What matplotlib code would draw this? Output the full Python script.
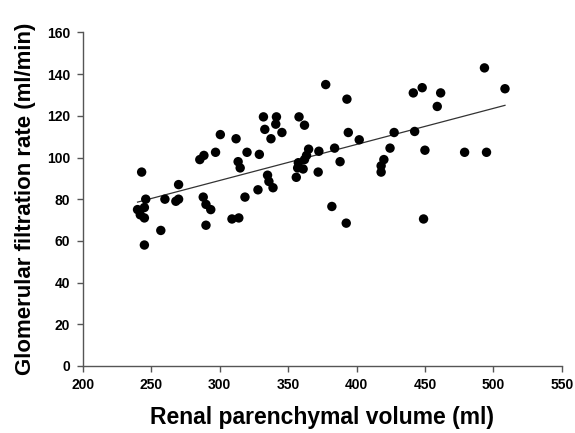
import numpy as np
import matplotlib
matplotlib.use("Agg")
import matplotlib.pyplot as plt

# renal parenchymal volume (ml) vs GFR (ml/min)
volume = [243, 245, 240, 242, 245, 246, 245, 260, 257, 270, 268, 270,
          285.5, 288.5, 300.5, 297, 312, 313.5, 315, 320, 329, 288, 290,
          293.5, 290, 309, 314, 318.5, 328, 377.5, 393, 332, 341.5, 341,
          333, 345.5, 337.5, 358, 362, 394, 402, 365, 363.5, 362, 372.5,
          384, 388, 357.5, 357, 361, 356, 372, 335, 336, 339, 382, 392.5,
          420, 418, 418, 493.5, 508.5, 441.5, 448, 461.5, 459, 427.5,
          442.5, 424.5, 450, 479, 495, 449]
gfr = [93, 58, 75, 72.5, 71, 80, 76, 80, 65, 87, 79, 80,
       99, 101, 111, 102.5, 109, 98, 95, 102.5, 101.5, 81, 77.5,
       75, 67.5, 70.5, 71, 81, 84.5, 135, 128, 119.5, 119.5, 116,
       113.5, 112, 109, 119.5, 115.5, 112, 108.5, 104, 101, 99, 103,
       104.5, 98, 97.5, 95, 94.5, 90.5, 93, 91.5, 88.5, 85.5, 76.5, 68.5,
       99, 96, 93, 143, 133, 131, 133.5, 131, 124.5, 112,
       112.5, 104.5, 103.5, 102.5, 102.5, 70.5]

x_ticks = [200, 250, 300, 350, 400, 450, 500, 550]
y_ticks = [0, 20, 40, 60, 80, 100, 120, 140, 160]

plt.rcParams["font.family"] = ["Liberation Sans", "DejaVu Sans"]

fig = plt.figure(figsize=(5.75, 4.33), dpi=100)
ax = fig.add_axes([0.144, 0.155, 0.833, 0.77])

ax.scatter(volume, gfr, s=46, color="black", edgecolors="none", zorder=3)

# least squares regression line over the data range
xv = np.array(volume)
slope, icpt = np.polyfit(xv, np.array(gfr), 1)
xl = np.array([xv.min(), xv.max()])
ax.plot(xl, icpt + slope * xl, color="#333333", lw=0.9, zorder=2)

ax.set_xlim(200, 550)
ax.set_ylim(0, 160)
ax.set_xticks(x_ticks)
ax.set_yticks(y_ticks)
for s in ("top", "right"):
    ax.spines[s].set_visible(False)
for s in ("left", "bottom"):
    ax.spines[s].set_color("#555555")
    ax.spines[s].set_linewidth(1.0)
ax.tick_params(direction="out", length=4, width=1, color="#555555",
               labelsize=10, pad=5)
for lab in ax.get_xticklabels() + ax.get_yticklabels():
    lab.set_fontweight("bold")

ax.set_xlabel("Renal parenchymal volume (ml)", fontsize=16.5,
              fontweight="bold", labelpad=10)
ax.set_ylabel("Glomerular filtration rate (ml/min)", fontsize=16,
              fontweight="bold", labelpad=8)

fig.savefig("out.png", dpi=100)
plt.close(fig)
